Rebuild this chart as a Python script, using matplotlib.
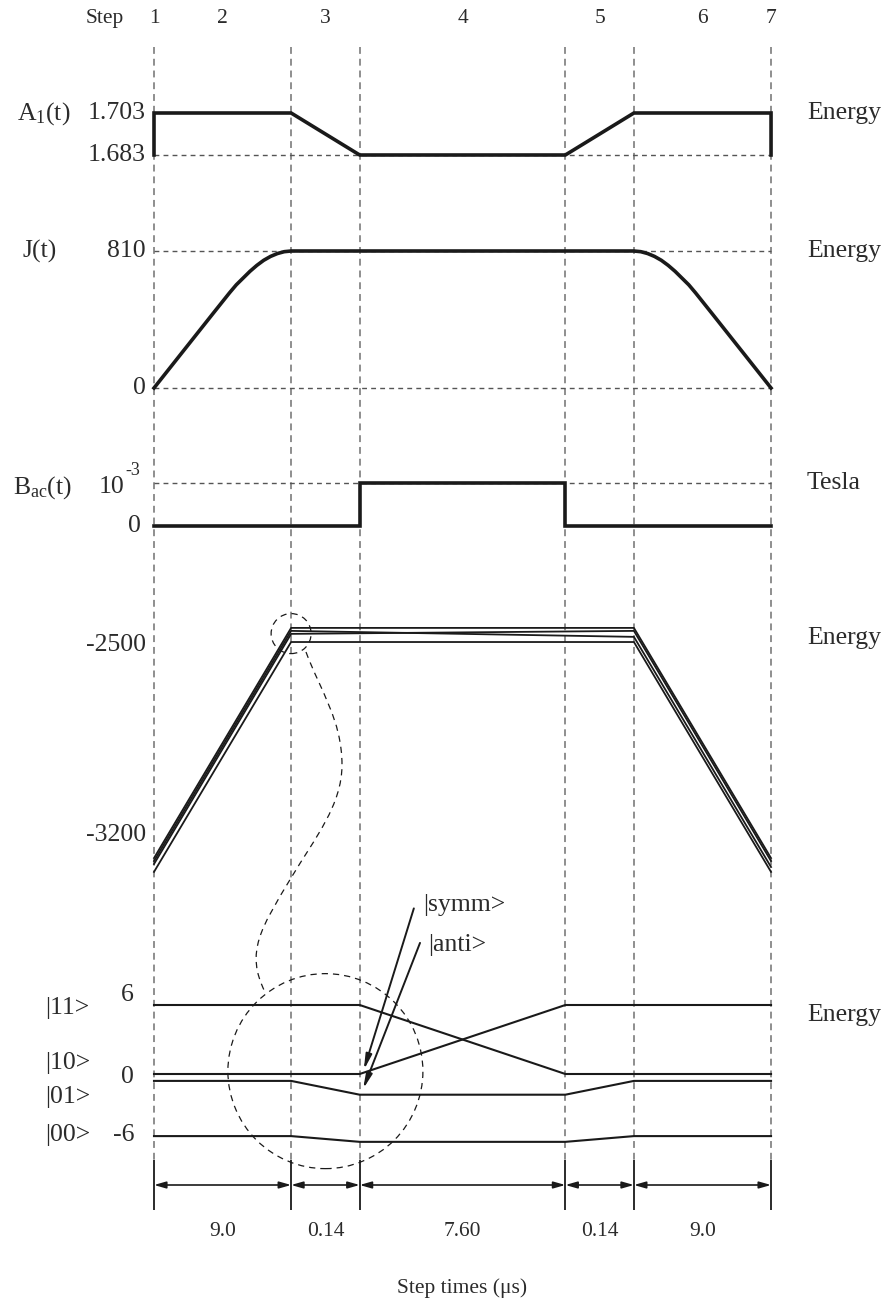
import matplotlib.pyplot as plt
from matplotlib.patches import Ellipse, PathPatch
from matplotlib.path import Path

plt.rcParams['font.family'] = ['Liberation Serif', 'DejaVu Serif']
plt.rcParams['mathtext.fontset'] = 'custom'
plt.rcParams['mathtext.rm'] = 'Liberation Serif'
plt.rcParams['mathtext.it'] = 'Liberation Serif:italic'

W, H = 890, 1315
X0, DX = 154, 68.56   # pixel of step 1, pixels per schematic unit
FS = 18.5
TXT = '#2b2b2b'
INK = '#1a1a1a'

# step boundaries (schematic, not to scale)
bounds = [0, 2, 3, 6, 7, 9]
step_names = ['1', '2', '3', '4', '5', '6', '7']
step_pos = [0, 1, 2.5, 4.5, 6.5, 8, 9]
step_times = ['9.0', '0.14', '7.60', '0.14', '9.0']

# A1(t)
t_A = [0, 0, 2, 3, 6, 7, 9, 9]
A1 = [1.683, 1.703, 1.703, 1.683, 1.683, 1.703, 1.703, 1.683]

# J(t)
t_J = [0, 0.42, 0.86, 1.1, 1.2, 1.3, 1.4, 1.5, 1.6, 1.7, 1.8, 1.9, 2,
       7, 7.1, 7.2, 7.3, 7.4, 7.5, 7.6, 7.7, 7.8, 7.9, 8.14, 8.58, 9]
J = [0, 215, 440, 562, 610, 650, 690, 725, 755, 778, 795, 806, 810,
     810, 806, 795, 778, 755, 725, 690, 650, 610, 562, 440, 215, 0]

# Bac(t), units of 1e-3 T
t_B = [0, 3, 3, 6, 6, 9]
B_ac = [0, 0, 1, 1, 0, 0]

# energy levels (Zeeman part)
t_E = [0, 2, 7, 9]
E_a = [-3285, -2437, -2437, -3285]
E_b = [-3296, -2448, -2470, -3318]
E_c = [-3307, -2459, -2448, -3296]
E_d = [-3336, -2489, -2489, -3336]

# two-qubit levels
t_Q = [0, 2, 3, 6, 7, 9]
E11 = [6, 6, 6, 0, 0, 0]
E10 = [0, 0, 0, 6, 6, 6]
E01 = [-0.6, -0.6, -1.8, -1.8, -0.6, -0.6]
E00 = [-5.4, -5.4, -5.9, -5.9, -5.4, -5.4]


def px_t(px):
    return (px - X0) / DX


fig = plt.figure(figsize=(W / 100, H / 100), dpi=100)
ax = fig.add_axes([0, 0, 1, 1])
ax.set_xlim(px_t(0), px_t(W))
ax.set_ylim(H, 0)
ax.axis('off')


def panel(v1, p1, v2, p2):
    a = ax.twinx()
    k = (v2 - v1) / (p2 - p1)
    a.set_ylim(v1 + (H - p1) * k, v1 - p1 * k)
    a.axis('off')
    return a


# vertical guides
for b in bounds:
    ax.plot([b, b], [47, 1163], color='#707070', lw=1.1, ls=(0, (4.5, 3.2)))

ax.text(px_t(105), 18, 'Step', fontsize=15.5, color=TXT, ha='center', va='center')
for name, p in zip(step_names, step_pos):
    ax.text(p, 18, name, fontsize=15.5, color=TXT, ha='center', va='center')

dash = dict(color='#555555', lw=1.0, ls=(0, (3.5, 3)))

# A1 panel
pa = panel(1.703, 113, 1.683, 155)
pa.plot([0, 9], [1.683, 1.683], **dash)
pa.plot(t_A, A1, color=INK, lw=2.6, solid_joinstyle='miter')
pa.text(px_t(17), 1.7025, 'A$_1$(t)', fontsize=FS, color=TXT, ha='left', va='center')
pa.text(px_t(146), 1.703, '1.703', fontsize=FS, color=TXT, ha='right', va='center')
pa.text(px_t(146), 1.683, '1.683', fontsize=FS, color=TXT, ha='right', va='center')
pa.text(px_t(807), 1.703, 'Energy', fontsize=FS, color=TXT, ha='left', va='center')

# J panel
pj = panel(810, 251, 0, 388)
pj.plot([0, 9], [810, 810], **dash)
pj.plot([0, 9], [0, 0], **dash)
pj.plot(t_J, J, color=INK, lw=2.6, solid_joinstyle='round')
pj.text(px_t(22), 810, 'J(t)', fontsize=FS, color=TXT, ha='left', va='center')
pj.text(px_t(146), 810, '810', fontsize=FS, color=TXT, ha='right', va='center')
pj.text(px_t(146), 0, '0', fontsize=FS, color=TXT, ha='right', va='center')
pj.text(px_t(807), 810, 'Energy', fontsize=FS, color=TXT, ha='left', va='center')

# Bac panel
pb = panel(1, 483, 0, 526)
pb.plot([0, 9], [1, 1], **dash)
pb.plot(t_B, B_ac, color=INK, lw=2.6, solid_joinstyle='miter')
pb.text(px_t(13), 0.9, 'B$_{\\rm ac}$(t)', fontsize=FS, color=TXT, ha='left', va='center')
pb.text(px_t(124), 0.9, '10', fontsize=FS, color=TXT, ha='right', va='center')
pb.text(px_t(125), 1.3, '-3', fontsize=13, color=TXT, ha='left', va='center')
pb.text(px_t(141), 0, '0', fontsize=FS, color=TXT, ha='right', va='center')
pb.text(px_t(807), 1, 'Tesla', fontsize=FS, color=TXT, ha='left', va='center')

# Zeeman energy panel
pe = panel(-2500, 645, -3200, 835)
for lev in (E_a, E_b, E_c, E_d):
    pe.plot(t_E, lev, color=INK, lw=1.3)
pe.text(px_t(146), -2500, '-2500', fontsize=FS, color=TXT, ha='right', va='center')
pe.text(px_t(146), -3200, '-3200', fontsize=FS, color=TXT, ha='right', va='center')
pe.text(px_t(807), -2475, 'Energy', fontsize=FS, color=TXT, ha='left', va='center')
ve = 700 / 190
pe.add_patch(Ellipse((2, -2458), 40 / DX, 40 * ve, fill=False, ec=INK, lw=0.9, ls=(0, (5, 4))))

# two-qubit panel
pq = panel(6, 1005, 0, 1074)
for lev in (E11, E10, E01, E00):
    pq.plot(t_Q, lev, color=INK, lw=1.5)
vq = 6 / 69
pq.add_patch(Ellipse((2.5, 0.25), 195 / DX, 195 * vq, fill=False, ec=INK, lw=0.9, ls=(0, (5, 4))))
for lab, y in [('|11>', 5.74), ('|10>', 0.96), ('|01>', -2.0), ('|00>', -5.3)]:
    pq.text(px_t(45), y, lab, fontsize=FS, color=TXT, ha='left', va='center')
for lab, y in [('6', 6.87), ('0', -0.26), ('-6', -5.3)]:
    pq.text(px_t(134), y, lab, fontsize=FS, color=TXT, ha='right', va='center')
pq.text(px_t(807), 5.1, 'Energy', fontsize=FS, color=TXT, ha='left', va='center')

arr = dict(arrowstyle='-|>,head_length=0.9,head_width=0.18', color=INK, lw=1.4, shrinkA=0, shrinkB=0)
pq.annotate('', xy=(3.06, 0.35), xytext=(3.79, 14.4), arrowprops=arr)
pq.annotate('', xy=(3.05, -1.3), xytext=(3.88, 11.4), arrowprops=arr)
pq.text(3.92, 14.7, '|symm>', fontsize=FS, color=TXT, ha='left', va='center')
pq.text(4.0, 11.2, '|anti>', fontsize=FS, color=TXT, ha='left', va='center')

# dashed link between the two circles
link_px = [(306, 652), (320, 690), (342, 720), (342, 765),
           (342, 805), (315, 838), (291, 878),
           (261, 928), (245, 952), (265, 992)]
codes = [Path.MOVETO] + [Path.CURVE4] * 9
verts = [(px_t(x), y) for x, y in link_px]
ax.add_patch(PathPatch(Path(verts, codes), fill=False, ec=INK, lw=0.9, ls=(0, (5, 4))))

# step-time dimension row
ax.vlines(bounds, 1160, 1210, color=INK, lw=1.3)
for i, lab in enumerate(step_times):
    ax.annotate('', xy=(bounds[i + 1], 1185), xytext=(bounds[i], 1185),
                arrowprops=dict(arrowstyle='<|-|>,head_length=0.7,head_width=0.2',
                                color=INK, lw=1.2, shrinkA=0, shrinkB=0))
    ax.text((bounds[i] + bounds[i + 1]) / 2, 1232, lab, fontsize=15.5, color=TXT,
            ha='center', va='center')
ax.text(4.5, 1288, 'Step times (μs)', fontsize=15.5, color=TXT, ha='center', va='center')

fig.savefig('out.png', dpi=100)
